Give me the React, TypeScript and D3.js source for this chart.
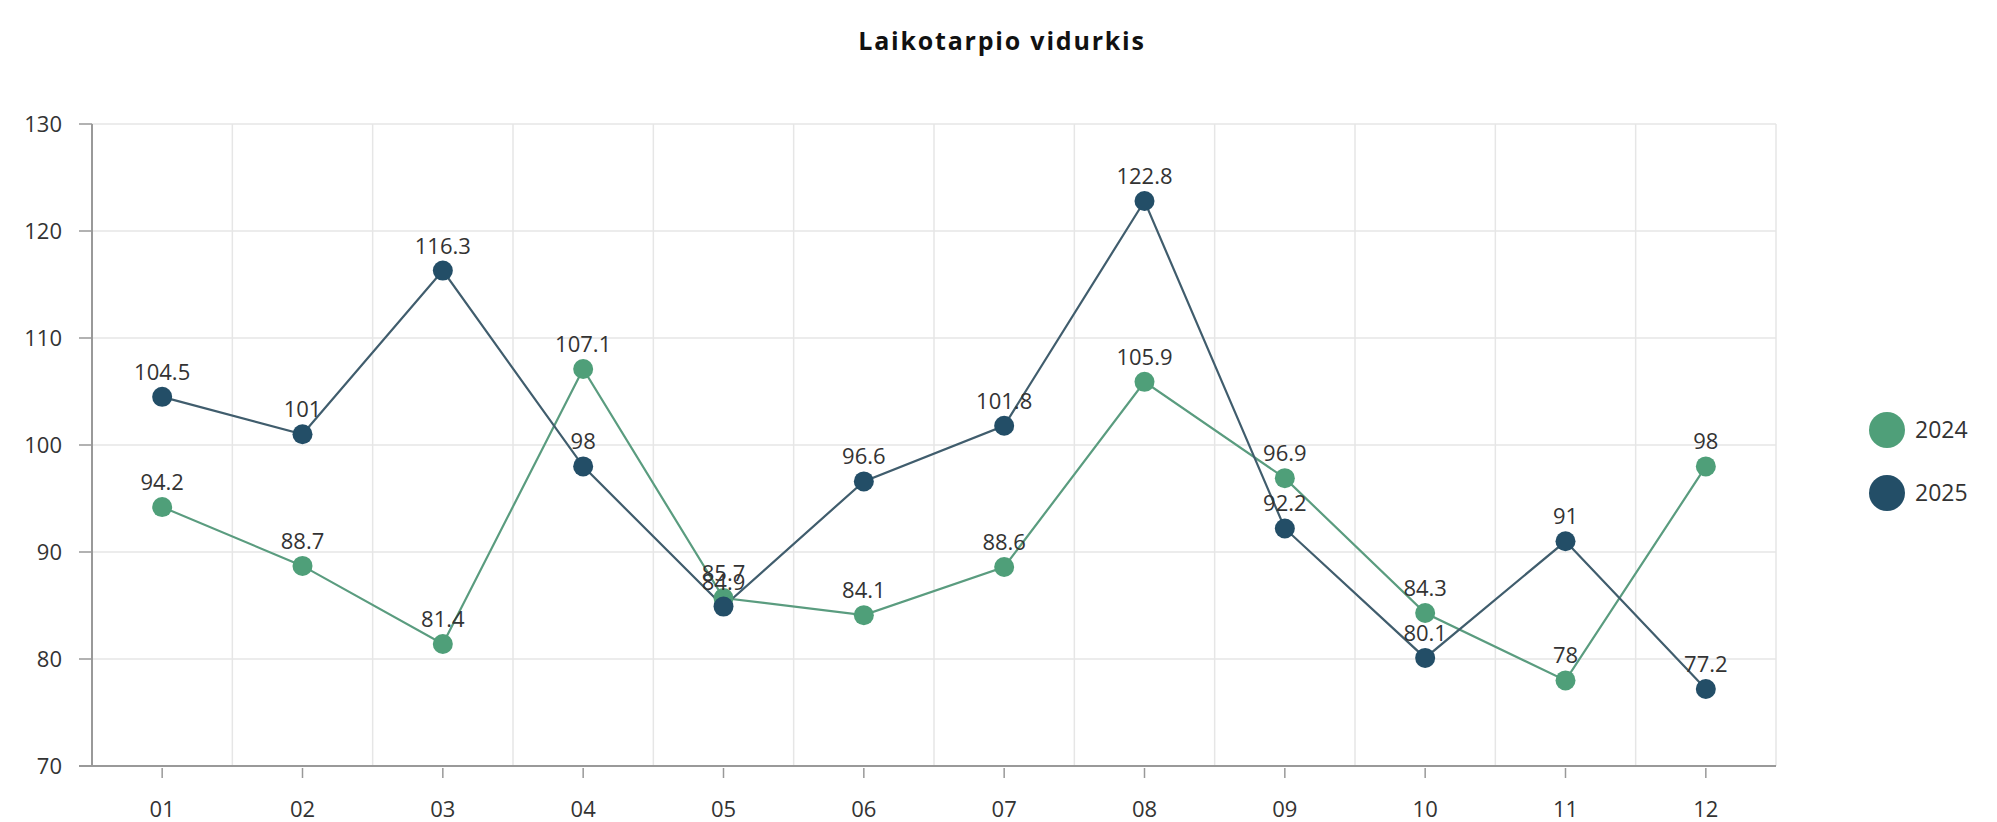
import React from "react";
import * as d3 from "d3";

const months = ["01", "02", "03", "04", "05", "06", "07", "08", "09", "10", "11", "12"];
const values2024 = [94.2, 88.7, 81.4, 107.1, 85.7, 84.1, 88.6, 105.9, 96.9, 84.3, 78, 98];
const values2025 = [104.5, 101, 116.3, 98, 84.9, 96.6, 101.8, 122.8, 92.2, 80.1, 91, 77.2];
const yTicks = [70, 80, 90, 100, 110, 120, 130];
const seriesNames = ["2024", "2025"];

const W = 1997;
const H = 822;
const M = { left: 92, right: 1776, top: 124, bottom: 766 };
const FONT = "'Open Sans', 'DejaVu Sans', sans-serif";

const markerColors = ["#4f9f79", "#234e67"];
const lineColors = ["#5a9c7f", "#405d6d"];

export default function App() {
  const x = d3.scaleBand<string>().domain(months).range([M.left, M.right]).padding(0);
  const y = d3.scaleLinear().domain([70, 130]).range([M.bottom, M.top]);
  const cx = (m: string) => (x(m) as number) + x.bandwidth() / 2;
  const line = d3
    .line<number>()
    .x((_, i) => cx(months[i]))
    .y((d) => y(d));
  const series = [values2024, values2025];
  const bounds = [...months.map((m) => x(m) as number), M.right];

  return (
    <svg
      width={W}
      height={H}
      style={{ position: "absolute", left: 0, top: 0, background: "#fff" }}
      fontFamily={FONT}
    >
      <text x={1002} y={50} textAnchor="middle" fontSize={25} fontWeight={700} letterSpacing={1.8} fill="#111">
        Laikotarpio vidurkis
      </text>
      {/* horizontal grid */}
      {yTicks.map((t) => (
        <line key={"h" + t} x1={M.left} x2={M.right} y1={y(t)} y2={y(t)} stroke="#e6e6e6" strokeWidth={1.5} />
      ))}
      {/* vertical grid */}
      {bounds.slice(1).map((b, i) => (
        <line key={"v" + i} x1={b} x2={b} y1={M.top} y2={M.bottom} stroke="#e6e6e6" strokeWidth={1.5} />
      ))}
      {/* y axis */}
      <line x1={M.left} x2={M.left} y1={M.top} y2={M.bottom} stroke="#999" strokeWidth={2} />
      {yTicks.map((t) => (
        <g key={"yt" + t}>
          <line x1={M.left - 13} x2={M.left} y1={y(t)} y2={y(t)} stroke="#999" strokeWidth={1.5} />
          <text x={62} y={y(t)} dy="0.35em" textAnchor="end" fontSize={22} fill="#333">
            {t}
          </text>
        </g>
      ))}
      {/* x axis */}
      <line x1={M.left - 13} x2={M.right} y1={M.bottom} y2={M.bottom} stroke="#999" strokeWidth={2} />
      {months.map((m) => (
        <g key={"xt" + m}>
          <line x1={cx(m)} x2={cx(m)} y1={M.bottom + 2} y2={M.bottom + 12} stroke="#999" strokeWidth={1.5} />
          <text x={cx(m)} y={817} textAnchor="middle" fontSize={22} fill="#333">
            {m}
          </text>
        </g>
      ))}
      {/* lines */}
      {series.map((vals, si) => (
        <path key={"l" + si} d={line(vals) || ""} fill="none" stroke={lineColors[si]} strokeWidth={2.2} />
      ))}
      {/* markers */}
      {series.map((vals, si) =>
        vals.map((v, i) => (
          <circle key={"c" + si + i} cx={cx(months[i])} cy={y(v)} r={10} fill={markerColors[si]} />
        ))
      )}
      {/* labels */}
      {series.map((vals, si) =>
        vals.map((v, i) => (
          <text
            key={"t" + si + i}
            x={cx(months[i])}
            y={y(v) - 17}
            textAnchor="middle"
            fontSize={22}
            fill="#333"
          >
            {String(v)}
          </text>
        ))
      )}
      {/* legend */}
      {seriesNames.map((n, i) => (
        <g key={"lg" + n}>
          <circle cx={1887} cy={430 + i * 63} r={18} fill={markerColors[i]} />
          <text x={1915} y={430 + i * 63} dy="0.35em" fontSize={23} fill="#333">
            {n}
          </text>
        </g>
      ))}
    </svg>
  );
}
